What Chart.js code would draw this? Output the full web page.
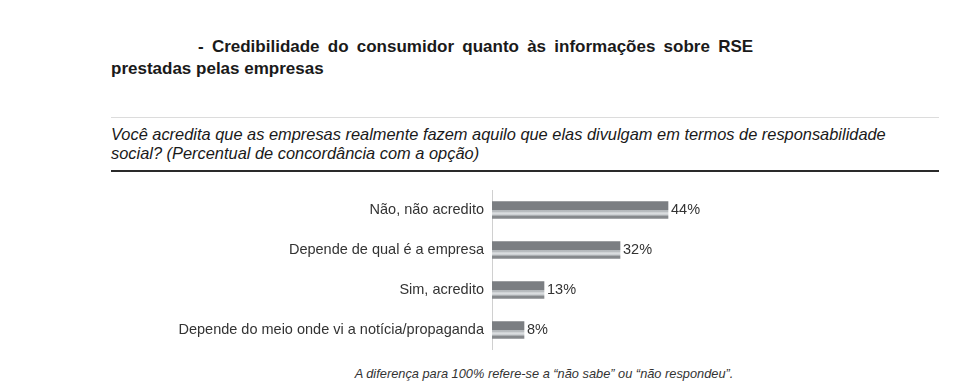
<!DOCTYPE html>
<html>
<head>
<meta charset="utf-8">
<script src="https://cdn.jsdelivr.net/npm/chart.js@4"></script>
<style>
    body { margin: 0; width: 980px; height: 391px; background: #fff; font-family: "Liberation Sans", Arial, sans-serif; color: #222; position: relative; overflow: hidden; }
    .title { position: absolute; left: 111px; top: 36px; font-size: 17px; font-weight: bold; line-height: 22px; color: #1a1a1a; }
    .title .first { padding-left: 87px; word-spacing: 3.5px; }
    .rule-light { position: absolute; left: 111px; top: 117px; width: 828px; height: 1px; background: #dcdcdc; }
    .question { position: absolute; left: 111px; top: 125px; font-size: 16.4px; font-style: italic; line-height: 19px; color: #1a1a1a; }
    .rule-dark { position: absolute; left: 111px; top: 170px; width: 828px; height: 2px; background: #2a2a2a; }
    .note { position: absolute; left: 0; width: 1088px; top: 366px; text-align: center; font-size: 12.8px; font-style: italic; color: #333; }
    #wrap { position: absolute; left: 110px; top: 190px; width: 782px; height: 160px; }
</style>
</head>
<body>
<div class="title"><div class="first">- Credibilidade do consumidor quanto às informações sobre RSE</div><div>prestadas pelas empresas</div></div>
<div class="rule-light"></div>
<div class="question">Você acredita que as empresas realmente fazem aquilo que elas divulgam em termos de responsabilidade<br>social? (Percentual de concordância com a opção)</div>
<div class="rule-dark"></div>
<div id="wrap"><canvas id="chart"></canvas></div>
<div class="note">A diferença para 100% refere-se a “não sabe” ou “não respondeu”.</div>
<script>
// Data
const categories = ['Não, não acredito', 'Depende de qual é a empresa', 'Sim, acredito', 'Depende do meio onde vi a notícia/propaganda'];
const percentages = [44, 32, 13, 8];

const barHeight = 17;

// striped grey fill, like the printed bars
function barFill(context) {
    const chart = context.chart;
    const yScale = chart.scales.y;
    const mid = yScale ? yScale.getPixelForValue(context.dataIndex) : NaN;
    if (!isFinite(mid)) return '#7d8083';
    const top = mid - barHeight / 2;
    const g = chart.ctx.createLinearGradient(0, top, 0, top + barHeight);
    g.addColorStop(0, '#7b7e82');
    g.addColorStop(0.52, '#7b7e82');
    g.addColorStop(0.53, '#b9bdc0');
    g.addColorStop(0.64, '#b9bdc0');
    g.addColorStop(0.65, '#dadddf');
    g.addColorStop(0.76, '#dadddf');
    g.addColorStop(0.77, '#bfc3c6');
    g.addColorStop(0.82, '#bfc3c6');
    g.addColorStop(0.83, '#86898c');
    g.addColorStop(1, '#86898c');
    return g;
}

const valueLabels = {
    id: 'valueLabels',
    afterDatasetsDraw(chart) {
        const ctx = chart.ctx;
        const meta = chart.getDatasetMeta(0);
        ctx.save();
        ctx.font = '14.5px "Liberation Sans", Arial, sans-serif';
        ctx.fillStyle = '#333';
        ctx.textBaseline = 'middle';
        meta.data.forEach((bar, i) => {
            ctx.fillText(percentages[i] + '%', bar.x + 3, bar.y);
        });
        ctx.restore();
    }
};

new Chart(document.getElementById('chart'), {
    type: 'bar',
    data: {
        labels: categories,
        datasets: [{
            data: percentages,
            backgroundColor: barFill,
            borderWidth: 0,
            barThickness: barHeight
        }]
    },
    options: {
        indexAxis: 'y',
        responsive: true,
        maintainAspectRatio: false,
        animation: false,
        layout: { padding: 0 },
        plugins: { legend: { display: false }, tooltip: { enabled: false } },
        scales: {
            x: {
                min: 0,
                max: 100,
                display: false
            },
            y: {
                grid: { display: false, drawTicks: false },
                border: { display: true, color: '#d0d0d0', width: 1 },
                ticks: {
                    padding: 8,
                    color: '#333',
                    font: { family: '"Liberation Sans", Arial, sans-serif', size: 14.5 }
                },
                afterFit(scale) {
                    scale.width = 382;
                    scale.paddingTop = 0;
                    scale.paddingBottom = 0;
                }
            }
        }
    },
    plugins: [valueLabels]
});
</script>
</body>
</html>
